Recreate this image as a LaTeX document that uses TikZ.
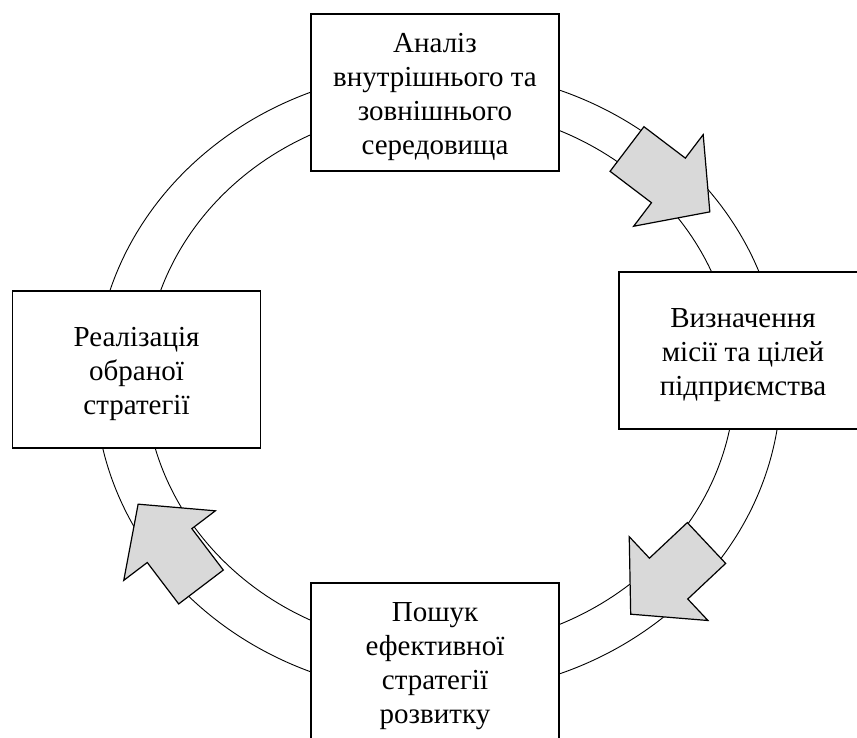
\documentclass[tikz,border=0pt]{standalone}
\usepackage{fontspec}
\setmainfont{Liberation Serif}
\definecolor{cinzaseta}{RGB}{217,217,217}
\tikzset{
	caixa/.style={draw, line width=1.2pt, fill=white, minimum width=248pt, minimum height=157pt, inner sep=0pt, align=center, font=\fontsize{29}{34}\selectfont},
	seta/.style={draw, line width=1.2pt, fill=cinzaseta, line join=miter},
	anel/.style={line width=0.9pt}
}
\begin{document}
\begin{tikzpicture}[x=1pt, y=-1pt] %Início do desenho, um ponto por pixel
	\useasboundingbox (0,0) rectangle (857,738); %Moldura
		%Elipses
	\draw[anel] (438,382) ellipse [x radius=343, y radius=312]; %Elipse externa
	\draw[anel] (440,377.5) ellipse [x radius=295, y radius=270]; %Elipse interna
		%Caixas
	\node[caixa] (analiz) at (435,92.5) {\rule{0pt}{29pt}Аналіз\\внутрішнього та\\зовнішнього\\середовища};
	\node[caixa] (misiia) at (743,350.5) {\rule{0pt}{29pt}Визначення\\місії та цілей\\підприємства};
	\node[caixa] (poshuk) at (435,661.5) {\rule{0pt}{29pt}Пошук\\ефективної\\стратегії\\розвитку};
	\node[caixa] (realiz) at (136.5,369.5) {\rule{0pt}{29pt}Реалізація\\обраної\\стратегії};
		%Setas
	\draw[seta, shift={(627,149)}, rotate=-37.2] (0,-28) -- (52,-28) -- (52,-57.5) -- (104,0) -- (52,57.5) -- (52,28) -- (0,28) -- cycle; %Seta direita superior
	\draw[seta, shift={(706.5,543)}, rotate=-136.8] (0,-28) -- (52,-28) -- (52,-57.5) -- (104,0) -- (52,57.5) -- (52,28) -- (0,28) -- cycle; %Seta direita inferior
	\draw[seta, shift={(201,587)}, rotate=127.2] (0,-28) -- (52,-28) -- (52,-57.5) -- (104,0) -- (52,57.5) -- (52,28) -- (0,28) -- cycle; %Seta esquerda
\end{tikzpicture}
\end{document}
